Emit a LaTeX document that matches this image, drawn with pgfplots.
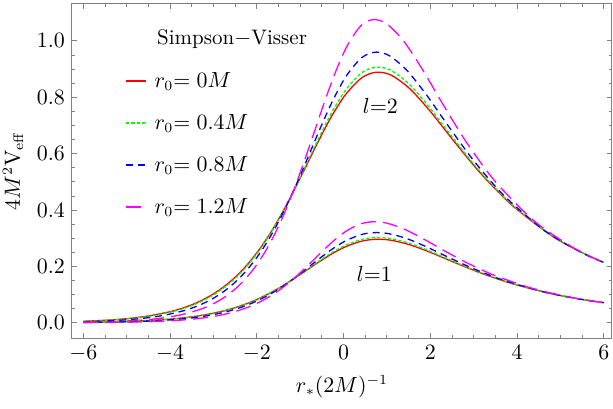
\documentclass[border=0pt]{standalone}
\usepackage{pgfplots}
\usepackage{pgfplotstable}
\pgfplotsset{compat=1.18}
\definecolor{svred}{rgb}{1,0,0}
\definecolor{svgreen}{rgb}{0,1,0}
\definecolor{svblue}{rgb}{0,0,1}
\definecolor{svmag}{rgb}{1,0,1}

% columns: x, l=2, l=1
\pgfplotstableread{
x y2 y1
-5.9991 0.00546 0.00182
-5.4985 0.00898 0.00299
-4.9975 0.01476 0.00492
-4.4959 0.02422 0.00807
-3.9933 0.03962 0.01321
-3.7413 0.05059 0.01686
-3.4889 0.06448 0.02149
-3.2357 0.08202 0.02734
-2.9817 0.10407 0.03469
-2.7265 0.13160 0.04387
-2.4698 0.16571 0.05524
-2.2112 0.20755 0.06918
-1.9502 0.25820 0.08607
-1.6861 0.31850 0.10617
-1.4179 0.38872 0.12957
-1.1446 0.46820 0.15607
-0.8647 0.55486 0.18495
-0.5762 0.64473 0.21491
-0.2769 0.73162 0.24387
0.0365 0.80733 0.26911
0.3679 0.86240 0.28747
0.5774 0.88176 0.29392
0.8069 0.88889 0.29630
1.1065 0.87767 0.29256
1.5288 0.83019 0.27673
2.0000 0.75000 0.25000
2.5340 0.64659 0.21553
3.1487 0.53234 0.17745
3.8670 0.41943 0.13981
4.7183 0.31726 0.10575
5.2052 0.27207 0.09069
5.7403 0.23130 0.07710
6.0000 0.21438 0.07146
}\redtab

\pgfplotstableread{
x y2 y1
-6.0000 0.00497 0.00165
-5.8876 0.00557 0.00186
-5.3960 0.00916 0.00305
-4.9041 0.01506 0.00502
-4.4115 0.02470 0.00823
-3.9180 0.04041 0.01347
-3.6705 0.05160 0.01720
-3.4226 0.06577 0.02192
-3.1740 0.08366 0.02789
-2.9245 0.10615 0.03538
-2.6740 0.13423 0.04475
-2.4218 0.16902 0.05634
-2.1679 0.21170 0.07056
-1.9116 0.26336 0.08779
-1.6523 0.32487 0.10829
-1.3889 0.39649 0.13216
-1.1205 0.47756 0.15919
-0.8456 0.56596 0.18865
-0.5623 0.65762 0.21921
-0.2684 0.74625 0.24875
0.0393 0.82348 0.27449
0.3648 0.87965 0.29322
0.5705 0.89940 0.29980
0.7960 0.90667 0.30223
1.0922 0.89522 0.29841
1.5099 0.84679 0.28226
1.9759 0.76500 0.25500
2.5040 0.65952 0.21984
3.1120 0.54299 0.18100
3.8224 0.42782 0.14261
4.6643 0.32361 0.10787
5.1459 0.27751 0.09250
5.6751 0.23593 0.07864
5.9479 0.21761 0.07253
6.0000 0.21455 0.07151
}\greentab

\pgfplotstableread{
x y2 y1
-6.0000 0.00359 0.00120
-5.5453 0.00590 0.00197
-5.0812 0.00970 0.00323
-4.6168 0.01594 0.00531
-4.1518 0.02616 0.00872
-3.6859 0.04279 0.01427
-3.4523 0.05464 0.01821
-3.2182 0.06964 0.02321
-2.9836 0.08858 0.02953
-2.7481 0.11240 0.03747
-2.5115 0.14213 0.04738
-2.2736 0.17897 0.05966
-2.0339 0.22415 0.07471
-1.7920 0.27886 0.09296
-1.5471 0.34398 0.11466
-1.2985 0.41982 0.13994
-1.0452 0.50566 0.16856
-0.7857 0.59925 0.19975
-0.5182 0.69631 0.23210
-0.2408 0.79015 0.26338
0.0497 0.87192 0.29064
0.3569 0.93139 0.31047
0.5512 0.95230 0.31743
0.7640 0.96000 0.32000
1.0503 0.94788 0.31596
1.4540 0.89661 0.29887
1.9045 0.81000 0.27000
2.4150 0.69832 0.23277
3.0027 0.57493 0.19165
3.6894 0.45298 0.15099
4.5032 0.34264 0.11421
4.9687 0.29384 0.09795
5.4802 0.24980 0.08327
5.7440 0.23041 0.07680
6.0000 0.21395 0.07131
}\bluetab

\pgfplotstableread{
x y2 y1
-6.0000 0.00194 0.00064
-5.8086 0.00243 0.00081
-5.3908 0.00402 0.00134
-4.9731 0.00661 0.00220
-4.5551 0.01087 0.00362
-4.1367 0.01786 0.00595
-3.7179 0.02931 0.00976
-3.2982 0.04794 0.01598
-3.0878 0.06121 0.02040
-2.8770 0.07802 0.02600
-2.6656 0.09924 0.03308
-2.4535 0.12592 0.04197
-2.2404 0.15924 0.05308
-2.0261 0.20051 0.06684
-1.8102 0.25114 0.08371
-1.5922 0.31242 0.10414
-1.3717 0.38539 0.12847
-1.1477 0.47035 0.15678
-0.9195 0.56652 0.18884
-0.6858 0.67138 0.22379
-0.4449 0.78012 0.26004
-0.1950 0.88526 0.29508
0.0667 0.97687 0.32562
0.3434 1.04350 0.34784
0.5183 1.06693 0.35564
0.7100 1.07556 0.35852
0.9796 1.06198 0.35400
1.3596 1.00453 0.33484
1.7837 0.90750 0.30250
2.2643 0.78237 0.26079
2.8175 0.64413 0.21471
3.4640 0.50751 0.16917
4.2302 0.38388 0.12796
4.6684 0.32920 0.10973
5.1500 0.27987 0.09329
5.3983 0.25814 0.08604
5.7934 0.22790 0.07596
6.0000 0.21467 0.07155
}\magtab

\begin{document}
\begin{tikzpicture}[font=\fontsize{10.5}{12.6}\selectfont]
\begin{axis}[
    scale only axis,
    width=270pt, height=167.5pt,
    xmin=-6.26, xmax=6.19, ymin=-0.055, ymax=1.133,
    xtick={-6,-4,-2,0,2,4,6},
    ytick={0,0.2,0.4,0.6,0.8,1.0},
    minor x tick num=3, minor y tick num=3,
    tick align=inside,
    major tick length=2.6pt, minor tick length=1.6pt,
    tick style={black!50, line width=0.4pt},
    axis line style={black!50, line width=0.5pt},
    yticklabel style={/pgf/number format/.cd, fixed, fixed zerofill, precision=1},
    xlabel={$r_*(2M)^{-1}$},
    ylabel={$4M^2\mathrm{V}_{\mathrm{eff}}$},
    legend cell align=left,
    legend image code/.code={\draw[#1] (0pt,0pt) -- (10pt,0pt);},
    legend style={draw=none, fill=none, at={(rel axis cs:0.098,0.805)}, anchor=north west,
      inner sep=0pt, row sep=9pt, column sep=3pt,
      nodes={inner sep=1pt, text height=8pt, text depth=2pt}},
    every axis plot/.append style={line width=0.65pt, smooth},
  ]
  \addplot[svred] table[x=x, y=y2] {\redtab};
  \addlegendentry{$r_0{=}\;0M$}
  \addplot[svgreen, dash pattern=on 1.6pt off 1.1pt] table[x=x, y=y2] {\greentab};
  \addlegendentry{$r_0{=}\;0.4M$}
  \addplot[svblue, dash pattern=on 3.5pt off 2.5pt] table[x=x, y=y2] {\bluetab};
  \addlegendentry{$r_0{=}\;0.8M$}
  \addplot[svmag, dash pattern=on 7.5pt off 3.5pt] table[x=x, y=y2] {\magtab};
  \addlegendentry{$r_0{=}\;1.2M$}

  \addplot[svred, forget plot] table[x=x, y=y1] {\redtab};
  \addplot[svgreen, dash pattern=on 1.6pt off 1.1pt, forget plot] table[x=x, y=y1] {\greentab};
  \addplot[svblue, dash pattern=on 3.5pt off 2.5pt, forget plot] table[x=x, y=y1] {\bluetab};
  \addplot[svmag, dash pattern=on 7.5pt off 3.5pt, forget plot] table[x=x, y=y1] {\magtab};

  \node[anchor=base west, inner sep=0pt] at (rel axis cs:0.157,0.878) {Simpson$-$Visser};
  \node at (axis cs:0.85,0.768) {$l{=}2$};
  \node at (axis cs:0.71,0.172) {$l{=}1$};

  \coordinate (bl) at (rel axis cs:-0.1333,-0.211);
  \coordinate (tr) at (rel axis cs:1.0019,1.0099);
\end{axis}
\pgfresetboundingbox
\path (bl) rectangle (tr);
\end{tikzpicture}
\end{document}
